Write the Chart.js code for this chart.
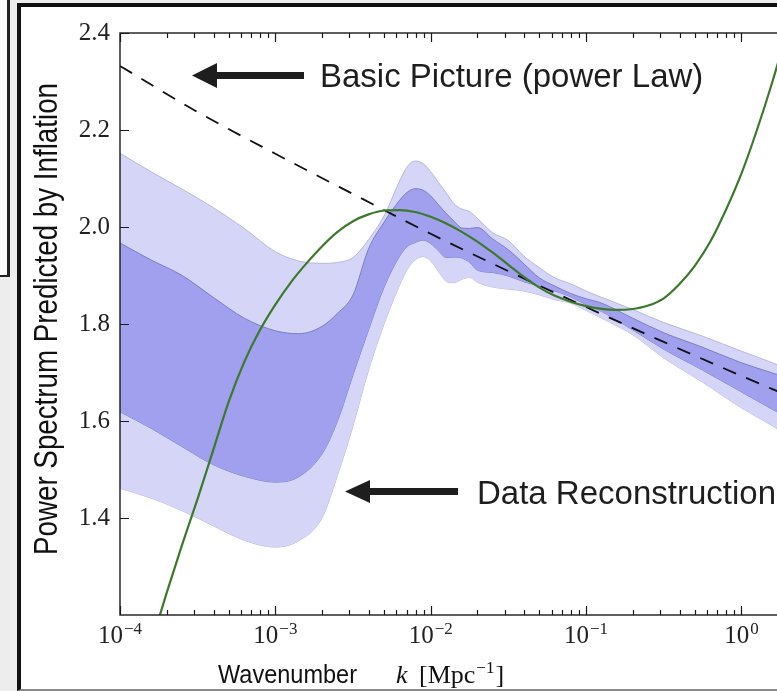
<!DOCTYPE html>
<html>
<head>
<meta charset="utf-8">
<script src="https://cdn.jsdelivr.net/npm/chart.js"></script>
<style>
    html, body { margin: 0; padding: 0; width: 777px; height: 691px; overflow: hidden; background: #ededed; }
    #leftBox { position: absolute; left: -4px; top: -4px; width: 11px; height: 279px; background: #fafafa; border-right: 3px solid #222; border-bottom: 2px solid #222; }
    #frame { position: absolute; left: 17px; top: 3px; width: 800px; height: 682px; background: #fff; border-left: 4px solid #111; border-top: 4px solid #111; border-bottom: 2px solid #8a8a8a; }
    #spectrumChart { position: absolute; left: 0; top: 0; }
</style>
</head>
<body>
<div id="leftBox"></div>
<div id="frame"></div>
<canvas id="spectrumChart" width="800" height="691"></canvas>
<script>
// k in Mpc^-1, values
var bandK = [1e-4, 1.585e-4, 2.512e-4, 3.981e-4, 6.31e-4, 1e-3, 1.413e-3, 1.995e-3, 2.512e-3, 3.162e-3,
    3.981e-3, 5.012e-3, 6.31e-3, 7.079e-3, 7.943e-3, 8.913e-3, 1e-2, 1.122e-2, 1.259e-2, 1.413e-2,
    1.585e-2, 1.778e-2, 1.995e-2, 2.512e-2, 3.162e-2, 3.981e-2, 5.012e-2, 6.31e-2, 7.943e-2, 0.1,
    0.1259, 0.1995, 0.3162, 0.5623, 1, 1.585, 1.995];
var outerUpper = [2.152, 2.114, 2.078, 2.040, 1.997, 1.949, 1.930, 1.925, 1.927, 1.937,
    1.974, 2.023, 2.095, 2.125, 2.136, 2.131, 2.114, 2.092, 2.070, 2.048,
    2.037, 2.032, 2.018, 1.988, 1.972, 1.940, 1.916, 1.895, 1.883, 1.868,
    1.855, 1.830, 1.803, 1.775, 1.744, 1.720, 1.707];
var innerUpper = [1.967, 1.932, 1.900, 1.855, 1.812, 1.786, 1.780, 1.795, 1.822, 1.860,
    1.955, 2.010, 2.055, 2.072, 2.079, 2.076, 2.064, 2.046, 2.028, 2.012,
    1.998, 1.997, 1.999, 1.975, 1.953, 1.924, 1.895, 1.878, 1.863, 1.852,
    1.843, 1.812, 1.782, 1.752, 1.720, 1.699, 1.688];
var innerLower = [1.619, 1.585, 1.547, 1.510, 1.486, 1.474, 1.485, 1.532, 1.600, 1.695,
    1.788, 1.876, 1.940, 1.960, 1.968, 1.973, 1.966, 1.951, 1.937, 1.938,
    1.936, 1.927, 1.911, 1.906, 1.899, 1.887, 1.878, 1.868, 1.856, 1.840,
    1.826, 1.788, 1.748, 1.705, 1.660, 1.624, 1.607];
var outerLower = [1.461, 1.441, 1.415, 1.384, 1.354, 1.340, 1.353, 1.400, 1.488, 1.590,
    1.705, 1.800, 1.880, 1.913, 1.932, 1.939, 1.930, 1.908, 1.888, 1.885,
    1.892, 1.896, 1.886, 1.876, 1.872, 1.868, 1.860, 1.850, 1.843, 1.828,
    1.812, 1.778, 1.730, 1.680, 1.627, 1.590, 1.570];

// green polynomial-like fit
var fitK = [1.585e-4, 1.995e-4, 2.512e-4, 3.162e-4, 3.981e-4, 5.012e-4, 6.31e-4, 7.943e-4, 1e-3, 1.259e-3,
    1.585e-3, 1.995e-3, 2.512e-3, 3.162e-3, 3.981e-3, 5.012e-3, 6.31e-3, 7.943e-3, 1e-2, 1.259e-2,
    1.585e-2, 1.995e-2, 2.512e-2, 3.162e-2, 3.981e-2, 5.012e-2, 6.31e-2, 7.943e-2, 0.1, 0.1259,
    0.1585, 0.1995, 0.2512, 0.3162, 0.3981, 0.5012, 0.631, 0.7943, 1, 1.259,
    1.585, 1.995];
var fitValues = [1.14, 1.245, 1.345, 1.44, 1.54, 1.64, 1.722, 1.787, 1.84, 1.886,
    1.925, 1.96, 1.99, 2.012, 2.026, 2.034, 2.035, 2.031, 2.021, 2.007,
    1.99, 1.97, 1.947, 1.922, 1.897, 1.875, 1.858, 1.846, 1.837, 1.831,
    1.829, 1.831, 1.838, 1.853, 1.882, 1.92, 1.97, 2.035, 2.11, 2.2,
    2.3, 2.41];

// basic power law (dashed)
var powerLawK = [1e-4, 3.162e-4, 1e-3, 3.162e-3, 1e-2, 3.162e-2, 0.1, 0.3162, 1, 1.995];
var powerLaw = [2.332, 2.237, 2.151, 2.068, 1.986, 1.909, 1.835, 1.763, 1.693, 1.652];

var xMajorTicks = [1e-4, 1e-3, 1e-2, 1e-1, 1];
var xTickExponents = ['\u22124', '\u22123', '\u22122', '\u22121', '0'];
var yTicks = [1.4, 1.6, 1.8, 2.0, 2.2, 2.4];

var yTitle = 'Power Spectrum Predicted by Inflation';
var serif = '"Liberation Serif", serif';
var sans = '"Liberation Sans", Arial, sans-serif';

function toPoints(ks, vals) {
    return ks.map(function (k, i) { return { x: k, y: vals[i] }; });
}

function drawArrow(ctx, tipX, y, headLen, headHalf, tailX, shaftHalf) {
    ctx.beginPath();
    ctx.moveTo(tipX, y);
    ctx.lineTo(tipX + headLen, y - headHalf);
    ctx.lineTo(tipX + headLen, y - shaftHalf);
    ctx.lineTo(tailX, y - shaftHalf);
    ctx.lineTo(tailX, y + shaftHalf);
    ctx.lineTo(tipX + headLen, y + shaftHalf);
    ctx.lineTo(tipX + headLen, y + headHalf);
    ctx.closePath();
    ctx.fill();
}

var decorPlugin = {
    id: 'decor',
    afterDraw: function (chart) {
        var ctx = chart.ctx;
        var a = chart.chartArea;
        var xs = chart.scales.x;
        var ys = chart.scales.y;
        ctx.save();

        // axes box with inward ticks
        ctx.strokeStyle = '#1a1a1a';
        ctx.lineWidth = 1.4;
        ctx.strokeRect(a.left, a.top, a.right - a.left, a.bottom - a.top);
        ctx.beginPath();
        for (var e = -4; e <= 0; e++) {
            for (var m = 1; m <= 9; m++) {
                var v = m * Math.pow(10, e);
                if (v >= xs.max) break;
                var px = Math.round(xs.getPixelForValue(v)) + 0.5;
                var len = m === 1 ? 9 : 5;
                ctx.moveTo(px, a.bottom);
                ctx.lineTo(px, a.bottom - len);
                ctx.moveTo(px, a.top);
                ctx.lineTo(px, a.top + len);
            }
        }
        yTicks.forEach(function (v) {
            var py = Math.round(ys.getPixelForValue(v)) + 0.5;
            ctx.moveTo(a.left, py);
            ctx.lineTo(a.left + 9, py);
        });
        ctx.lineWidth = 1.2;
        ctx.stroke();

        // x tick labels 10^n
        ctx.fillStyle = '#222';
        ctx.textAlign = 'left';
        ctx.textBaseline = 'alphabetic';
        xMajorTicks.forEach(function (v, i) {
            var px = xs.getPixelForValue(v);
            ctx.font = '25px ' + serif;
            var wBase = ctx.measureText('10').width;
            ctx.font = '17px ' + serif;
            var wExp = ctx.measureText(xTickExponents[i]).width;
            var left = px - (wBase + 1 + wExp) / 2;
            ctx.font = '25px ' + serif;
            ctx.fillText('10', left, 643);
            ctx.font = '17px ' + serif;
            ctx.fillText(xTickExponents[i], left + wBase + 1, 634);
        });

        // y axis title (condensed)
        ctx.fillStyle = '#111';
        ctx.save();
        ctx.translate(57, 319);
        ctx.rotate(-Math.PI / 2);
        ctx.font = '34px ' + sans;
        var wy = ctx.measureText(yTitle).width;
        ctx.scale(472 / wy, 1);
        ctx.textAlign = 'center';
        ctx.fillText(yTitle, 0, 0);
        ctx.restore();

        // x axis title
        ctx.save();
        ctx.font = '26.5px ' + sans;
        var ww = ctx.measureText('Wavenumber').width;
        ctx.translate(218, 683);
        ctx.scale(139 / ww, 1);
        ctx.fillText('Wavenumber', 0, 0);
        ctx.restore();
        ctx.font = 'italic 26px ' + serif;
        ctx.fillText('k', 396, 683);
        ctx.font = '26px ' + serif;
        ctx.fillText('[Mpc', 419, 683);
        var w1 = ctx.measureText('[Mpc').width;
        ctx.font = '17px ' + serif;
        ctx.fillText('\u22121', 419 + w1 + 1, 673);
        var w2 = ctx.measureText('\u22121').width;
        ctx.font = '26px ' + serif;
        ctx.fillText(']', 419 + w1 + w2 + 2, 683);

        // annotations
        ctx.fillStyle = '#1e1e1e';
        drawArrow(ctx, 192, 75.5, 25, 12.5, 304, 3.5);
        drawArrow(ctx, 345, 491.5, 25, 11.5, 458, 3.5);
        ctx.font = '33px ' + sans;
        ctx.fillText('Basic Picture (power Law)', 320, 87);
        ctx.fillText('Data Reconstruction', 477, 504);

        ctx.restore();
    }
};

function renderSpectrumChart() {
    var ctx = document.getElementById('spectrumChart').getContext('2d');

    var spectrumChart = new Chart(ctx, {
        type: 'line',
        data: {
            datasets: [{
                label: 'Fit',
                data: toPoints(fitK, fitValues),
                borderColor: '#3b7a2a',
                borderWidth: 2.2,
                fill: false
            }, {
                label: 'Power law',
                data: toPoints(powerLawK, powerLaw),
                borderColor: '#111',
                borderWidth: 1.8,
                borderDash: [14, 11],
                fill: false
            }, {
                label: '1 sigma upper',
                data: toPoints(bandK, innerUpper),
                borderColor: '#7c7cc6',
                borderWidth: 1,
                backgroundColor: 'rgb(160, 160, 238)',
                fill: '+1'
            }, {
                label: '1 sigma lower',
                data: toPoints(bandK, innerLower),
                borderColor: '#7c7cc6',
                borderWidth: 1,
                fill: false
            }, {
                label: '2 sigma upper',
                data: toPoints(bandK, outerUpper),
                borderColor: '#b6b6de',
                borderWidth: 1,
                backgroundColor: 'rgb(213, 213, 248)',
                fill: '+1'
            }, {
                label: '2 sigma lower',
                data: toPoints(bandK, outerLower),
                borderColor: '#b6b6de',
                borderWidth: 1,
                fill: false
            }]
        },
        options: {
            responsive: false,
            animation: false,
            events: [],
            elements: {
                point: { radius: 0 },
                line: { cubicInterpolationMode: 'monotone' }
            },
            layout: {
                padding: { top: 33, right: 12, bottom: 0, left: 0 }
            },
            plugins: {
                legend: { display: false },
                tooltip: { enabled: false }
            },
            scales: {
                x: {
                    type: 'logarithmic',
                    min: 1e-4,
                    max: 1.995,
                    grid: { display: false, drawTicks: false },
                    border: { display: false },
                    ticks: { display: false },
                    afterFit: function (scale) { scale.height = 76; }
                },
                y: {
                    type: 'linear',
                    min: 1.2,
                    max: 2.4,
                    grid: { display: false, drawTicks: false },
                    border: { display: false },
                    afterBuildTicks: function (scale) {
                        scale.ticks = yTicks.map(function (v) { return { value: v }; });
                    },
                    ticks: {
                        color: '#222',
                        padding: 10,
                        font: { family: serif, size: 25 },
                        callback: function (value) { return value.toFixed(1); }
                    },
                    afterFit: function (scale) { scale.width = 120; }
                }
            }
        },
        plugins: [decorPlugin]
    });
}

document.addEventListener('DOMContentLoaded', renderSpectrumChart);
</script>
</body>
</html>
